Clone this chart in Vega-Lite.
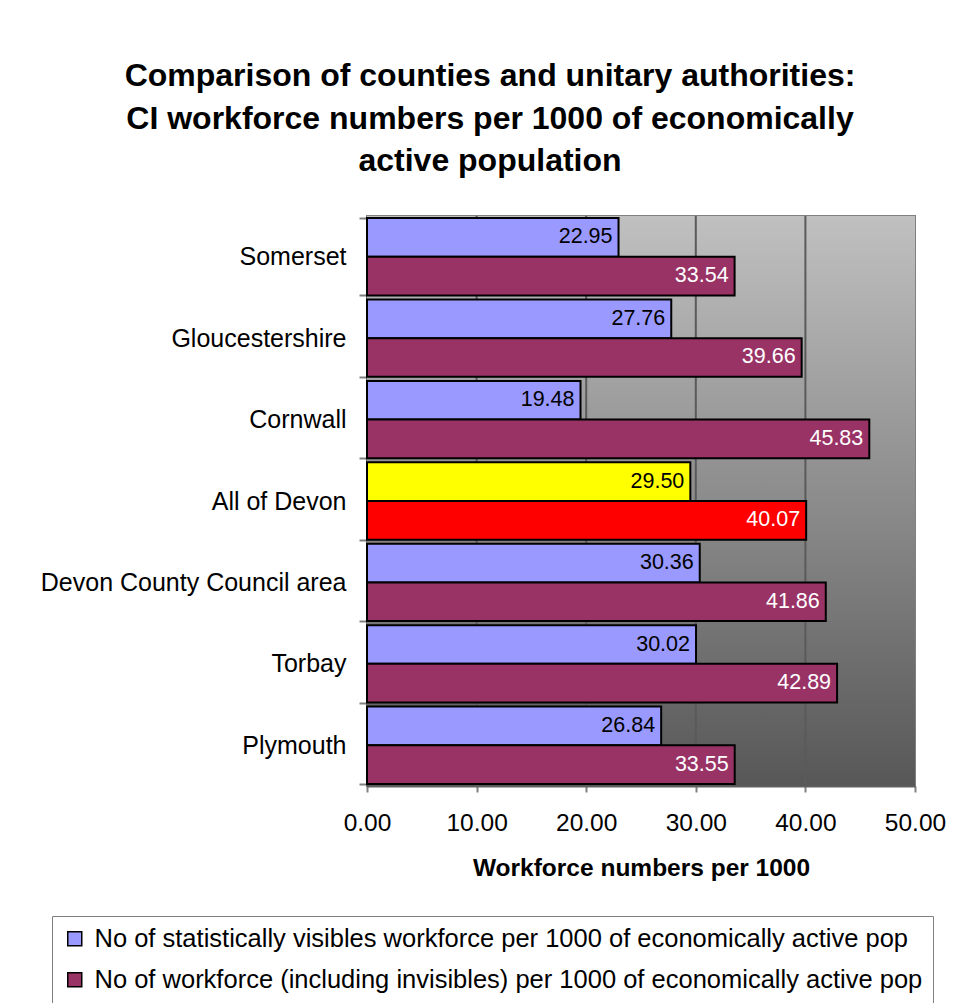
{
  "$schema": "https://vega.github.io/schema/vega-lite/v6.json",
  "autosize": {"type": "none"},
  "padding": {"left": 367, "top": 216, "right": 41, "bottom": 217},
  "width": 548,
  "height": 570,
  "background": "white",
  "title": {
    "text": ["Comparison of counties and unitary authorities:", "CI workforce numbers per 1000 of economically", "active population"],
    "fontSize": 32,
    "fontWeight": "bold",
    "lineHeight": 42.5,
    "anchor": "middle",
    "frame": "group",
    "dx": -151,
    "offset": 26,
    "color": "black"
  },
  "config": {
    "font": "Liberation Sans",
    "view": {"stroke": "#808080", "strokeWidth": 2},
    "legend": {
      "orient": "none",
      "legendX": -315,
      "legendY": 700,
      "strokeColor": "#808080",
      "padding": 10,
      "labelFontSize": 25.5,
      "labelColor": "black",
      "labelLimit": 1000,
      "labelOffset": 7,
      "symbolType": "square",
      "symbolSize": 196,
      "symbolStrokeColor": "black",
      "symbolStrokeWidth": 1.5,
      "symbolOpacity": 1,
      "rowPadding": 14,
      "title": null
    }
  },
  "layer": [
    {
      "data": {"values": [{"lo": 0, "hi": 50}]},
      "mark": {
        "type": "rect",
        "color": {
          "gradient": "linear",
          "x1": 0, "y1": 0, "x2": 0, "y2": 1,
          "stops": [
            {"offset": 0, "color": "#c0c0c0"},
            {"offset": 1, "color": "#575757"}
          ]
        }
      },
      "encoding": {
        "x": {"field": "lo", "type": "quantitative", "scale": {"domain": [0, 50], "nice": false}},
        "x2": {"field": "hi"}
      }
    },
    {
      "data": {"values": [{"g": 10}, {"g": 20}, {"g": 30}, {"g": 40}]},
      "mark": {"type": "rule", "color": "#5a5a5a", "strokeWidth": 2},
      "encoding": {
        "x": {"field": "g", "type": "quantitative"}
      }
    },
    {
      "data": {"values": [
        {"region": "Somerset", "series": "No of statistically visibles workforce per 1000 of economically active pop", "value": 22.95},
        {"region": "Somerset", "series": "No of workforce (including invisibles) per 1000 of economically active pop", "value": 33.54},
        {"region": "Gloucestershire", "series": "No of statistically visibles workforce per 1000 of economically active pop", "value": 27.76},
        {"region": "Gloucestershire", "series": "No of workforce (including invisibles) per 1000 of economically active pop", "value": 39.66},
        {"region": "Cornwall", "series": "No of statistically visibles workforce per 1000 of economically active pop", "value": 19.48},
        {"region": "Cornwall", "series": "No of workforce (including invisibles) per 1000 of economically active pop", "value": 45.83},
        {"region": "All of Devon", "series": "No of statistically visibles workforce per 1000 of economically active pop", "value": 29.50},
        {"region": "All of Devon", "series": "No of workforce (including invisibles) per 1000 of economically active pop", "value": 40.07},
        {"region": "Devon County Council area", "series": "No of statistically visibles workforce per 1000 of economically active pop", "value": 30.36},
        {"region": "Devon County Council area", "series": "No of workforce (including invisibles) per 1000 of economically active pop", "value": 41.86},
        {"region": "Torbay", "series": "No of statistically visibles workforce per 1000 of economically active pop", "value": 30.02},
        {"region": "Torbay", "series": "No of workforce (including invisibles) per 1000 of economically active pop", "value": 42.89},
        {"region": "Plymouth", "series": "No of statistically visibles workforce per 1000 of economically active pop", "value": 26.84},
        {"region": "Plymouth", "series": "No of workforce (including invisibles) per 1000 of economically active pop", "value": 33.55}
      ]},
      "encoding": {
        "y": {
          "field": "region",
          "type": "nominal",
          "sort": ["Somerset", "Gloucestershire", "Cornwall", "All of Devon", "Devon County Council area", "Torbay", "Plymouth"],
          "scale": {"paddingInner": 0.05, "paddingOuter": 0.025},
          "axis": {
            "title": null,
            "labelFontSize": 25,
            "labelColor": "black",
            "labelPadding": 13,
            "tickSize": 8,
            "tickColor": "#808080",
            "tickWidth": 2,
            "tickBand": "extent",
            "domainColor": "#404040",
            "domainWidth": 2,
            "labelLimit": 400
          }
        },
        "yOffset": {
          "field": "series",
          "type": "nominal",
          "sort": ["No of statistically visibles workforce per 1000 of economically active pop", "No of workforce (including invisibles) per 1000 of economically active pop"]
        },
        "x": {
          "field": "value",
          "type": "quantitative",
          "scale": {"domain": [0, 50], "nice": false},
          "axis": {
            "values": [0, 10, 20, 30, 40, 50],
            "format": ".2f",
            "grid": false,
            "labelFlush": false,
            "labelOverlap": false,
            "labelFontSize": 24.5,
            "labelColor": "black",
            "labelPadding": 19,
            "tickSize": 6,
            "tickWidth": 2,
            "tickColor": "#808080",
            "domainColor": "#606060",
            "domainWidth": 2,
            "title": "Workforce numbers per 1000",
            "titleFontSize": 24.5,
            "titleFontWeight": "bold",
            "titleColor": "black",
            "titlePadding": 22
          }
        }
      },
      "layer": [
        {
          "mark": {"type": "bar", "stroke": "black", "strokeWidth": 2},
          "encoding": {
            "color": {
              "field": "series",
              "type": "nominal",
              "scale": {
                "domain": ["No of statistically visibles workforce per 1000 of economically active pop", "No of workforce (including invisibles) per 1000 of economically active pop"],
                "range": ["#9999FF", "#993366"]
              },
              "condition": [
                {"test": "datum.region === 'All of Devon' && datum.series === 'No of statistically visibles workforce per 1000 of economically active pop'", "value": "#FFFF00"},
                {"test": "datum.region === 'All of Devon'", "value": "#FF0000"}
              ]
            }
          }
        },
        {
          "mark": {"type": "text", "align": "right", "baseline": "middle", "dx": -6, "fontSize": 21.5},
          "encoding": {
            "text": {"field": "value", "type": "quantitative", "format": ".2f"},
            "color": {
              "condition": {"test": "datum.series === 'No of workforce (including invisibles) per 1000 of economically active pop'", "value": "white"},
              "value": "black"
            }
          }
        }
      ]
    }
  ]
}
